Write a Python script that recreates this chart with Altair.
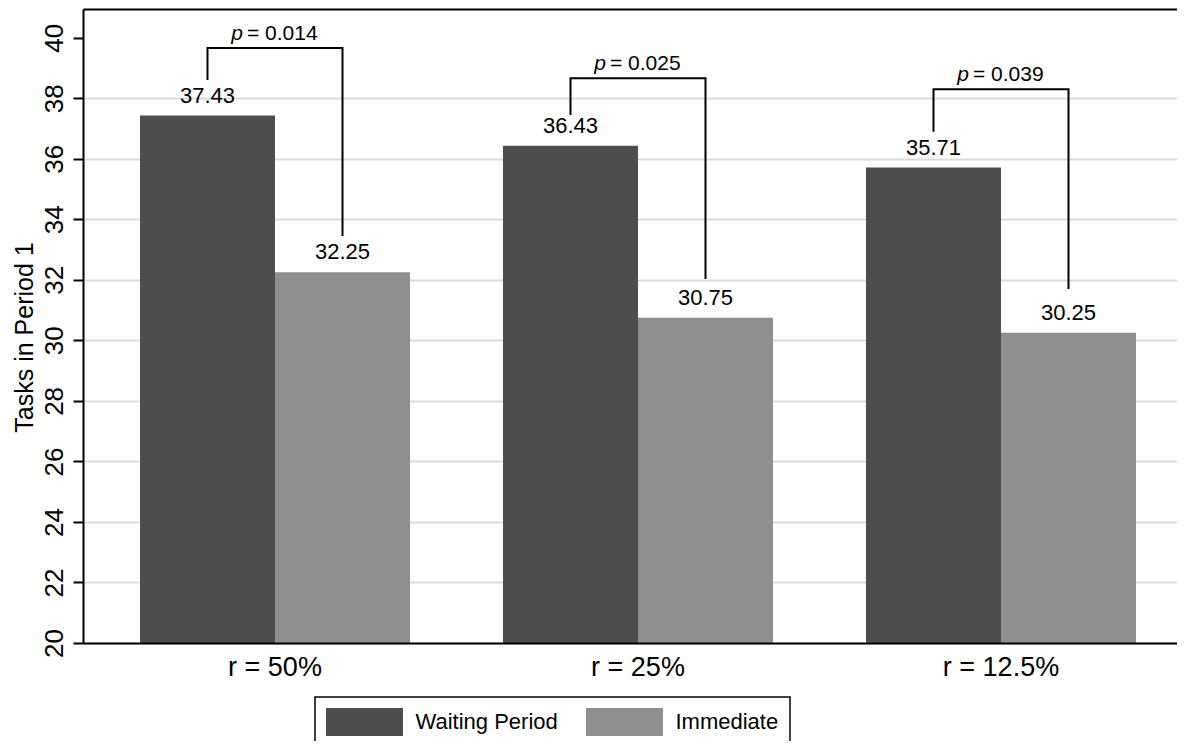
import altair as alt
import pandas as pd

groups = ["r = 50%", "r = 25%", "r = 12.5%"]
series = ["Waiting Period", "Immediate"]
waiting = [37.43, 36.43, 35.71]
immediate = [32.25, 30.75, 30.25]
p_values = ["0.014", "0.025", "0.039"]
bracket_top = [39.66, 38.66, 38.30]
bracket_left_end = [38.60, 37.45, 36.89]
bracket_right_end = [33.45, 32.03, 31.70]
y_ticks = [20, 22, 24, 26, 28, 30, 32, 34, 36, 38, 40]

DARK = "#4d4d4d"
LIGHT = "#8f8f8f"
FONT = "Liberation Sans"

bars = pd.DataFrame(
    [{"group": g, "series": series[0], "value": w} for g, w in zip(groups, waiting)]
    + [{"group": g, "series": series[1], "value": v} for g, v in zip(groups, immediate)]
)

br_rows = []
for g, t, l, r in zip(groups, bracket_top, bracket_left_end, bracket_right_end):
    br_rows += [
        {"group": g, "series": series[0], "y": l, "o": 0},
        {"group": g, "series": series[0], "y": t, "o": 1},
        {"group": g, "series": series[1], "y": t, "o": 2},
        {"group": g, "series": series[1], "y": r, "o": 3},
    ]
brackets = pd.DataFrame(br_rows)

ptext = pd.DataFrame({"group": groups, "y": bracket_top,
                      "p": ["p"] * 3, "rest": ["= " + p for p in p_values]})

W, H = 1094, 634
ydom = [20, 40.95]

xscale = alt.Scale(domain=groups, paddingInner=0.2562, paddingOuter=0.135, align=0.5816)
yscale = alt.Scale(domain=ydom, nice=False, zero=False)
xoff = alt.XOffset("series:N", scale=alt.Scale(domain=series, paddingInner=0, paddingOuter=0))

bar_layer = alt.Chart(bars).mark_bar().encode(
    x=alt.X("group:N", scale=xscale, sort=groups, title=None,
            axis=alt.Axis(orient="bottom", labelAngle=0, labelFontSize=27, labelFont=FONT,
                          labelColor="black", ticks=False, labelPadding=11,
                          domainColor="black", domainWidth=2, zindex=1)),
    xOffset=xoff,
    y=alt.Y("value:Q", scale=yscale,
            axis=alt.Axis(values=y_ticks, format="d", title="Tasks in Period 1",
                          titleFontSize=25, titleFont=FONT, titleFontWeight="normal",
                          titleColor="black", titleAngle=270, titleBaseline="alphabetic",
                          titleAlign="center", titleX=-51, titleY=328,
                          labelFontSize=26, labelFont=FONT, labelColor="black",
                          labelAngle=-90, labelAlign="center", labelBaseline="alphabetic",
                          labelPadding=11, tickSize=10, tickWidth=2, tickColor="black",
                          domainColor="black", domainWidth=2,
                          grid=True, gridColor="#dcdcdc", gridWidth=2,
                          gridOpacity={"condition": {"test": "datum.value >= 40", "value": 0}, "value": 1},
                          zindex=0)),
    y2=alt.datum(20),
    color=alt.Color("series:N", scale=alt.Scale(domain=series, range=[DARK, LIGHT]),
                    legend=alt.Legend(title=None, orient="none", legendX=232, legendY=688,
                                      direction="horizontal",
                                      symbolType="M-2.75,-1H2.75V1H-2.75Z", symbolSize=784,
                                      symbolOffset=24.5,
                                      symbolStrokeWidth=0, symbolOpacity=1,
                                      labelFontSize=22, labelFont=FONT, labelColor="black",
                                      labelOffset=37, columnPadding=28, padding=11,
                                      strokeColor="black", fillColor="white")),
)

label_layer = alt.Chart(bars).mark_text(fontSize=22, font=FONT, color="black", dy=-20,
                                         baseline="middle").encode(
    x=alt.X("group:N", scale=xscale, sort=groups, title=None,
            axis=alt.Axis(orient="top", labels=False, ticks=False, domainColor="black",
                          domainWidth=2, grid=False)),
    xOffset=xoff,
    y=alt.Y("value:Q", scale=yscale),
    text=alt.Text("value:Q", format=".2f"),
)

bracket_layer = alt.Chart(brackets).mark_line(color="black", strokeWidth=2).encode(
    x=alt.X("group:N", scale=xscale, sort=groups, axis=None),
    xOffset=xoff,
    y=alt.Y("y:Q", scale=yscale),
    detail="group:N",
    order="o:Q",
)

p_layer = alt.Chart(ptext).mark_text(fontSize=21, font=FONT, fontStyle="italic", color="black",
                                     align="right", baseline="alphabetic", dx=-32, dy=-8).encode(
    x=alt.X("group:N", scale=xscale, sort=groups, axis=None),
    y=alt.Y("y:Q", scale=yscale),
    text="p:N",
)
rest_layer = alt.Chart(ptext).mark_text(fontSize=21, font=FONT, color="black",
                                        align="left", baseline="alphabetic", dx=-28, dy=-8).encode(
    x=alt.X("group:N", scale=xscale, sort=groups, axis=None),
    y=alt.Y("y:Q", scale=yscale),
    text="rest:N",
)

chart = alt.layer(bar_layer, label_layer, bracket_layer, p_layer, rest_layer).resolve_axis(
    x="independent"
).properties(
    width=W, height=H,
    autosize=alt.AutoSizeParams(type="none"),
    padding={"left": 75, "top": 1, "right": 0, "bottom": 98},
).configure_view(stroke=None).configure(background="white").configure_legend(strokeWidth=1.5)

chart.save("out.html", embed_options={"renderer": "svg", "actions": False})
